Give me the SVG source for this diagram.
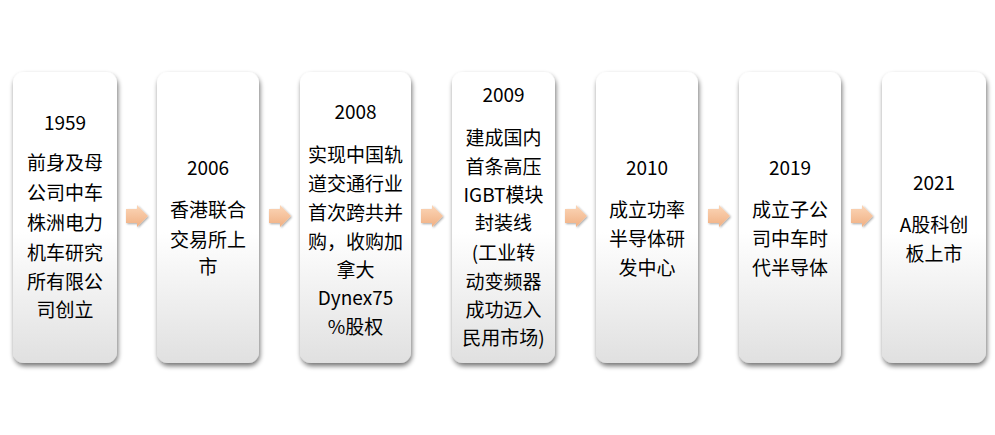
<svg xmlns="http://www.w3.org/2000/svg" width="995" height="435" viewBox="0 0 995 435">
<style>
.box{fill:url(#bg);filter:url(#sh);}
.t{font-family:"Microsoft YaHei","Noto Sans CJK SC","Noto Sans",sans-serif;font-size:19px;fill:#000;text-anchor:middle;}
.arr{fill:url(#ag);filter:url(#ash);}
</style>
<defs>
<linearGradient id="bg" x1="0" y1="0" x2="0" y2="1">
<stop offset="0" stop-color="#ffffff"/>
<stop offset="0.55" stop-color="#ffffff"/>
<stop offset="1" stop-color="#e0e0e0"/>
</linearGradient>
<linearGradient id="ag" x1="0" y1="0" x2="0" y2="1">
<stop offset="0" stop-color="#fbd6b8"/>
<stop offset="1" stop-color="#f0b083"/>
</linearGradient>
<filter id="sh" x="-20%" y="-10%" width="140%" height="125%">
<feGaussianBlur in="SourceAlpha" stdDeviation="2.5"/>
<feOffset dx="1" dy="3" result="b"/>
<feComponentTransfer><feFuncA type="linear" slope="0.55"/></feComponentTransfer>
<feMerge><feMergeNode/><feMergeNode in="SourceGraphic"/></feMerge>
</filter>
<filter id="ash" x="-30%" y="-30%" width="160%" height="160%">
<feGaussianBlur in="SourceAlpha" stdDeviation="1"/>
<feOffset dx="1" dy="1"/>
<feComponentTransfer><feFuncA type="linear" slope="0.35"/></feComponentTransfer>
<feMerge><feMergeNode/><feMergeNode in="SourceGraphic"/></feMerge>
</filter>
<path id="ar" d="M0,-7 L11,-7 L11,-11 L22,0 L11,11 L11,7 L0,7 Z"/>
</defs>
<rect width="995" height="435" fill="#ffffff"/>
<g id="connectors">
<use href="#ar" class="arr" x="126" y="216"/>
<use href="#ar" class="arr" x="269" y="216"/>
<use href="#ar" class="arr" x="421" y="216"/>
<use href="#ar" class="arr" x="565" y="216"/>
<use href="#ar" class="arr" x="708" y="216"/>
<use href="#ar" class="arr" x="851" y="216"/>
</g>
<g id="n1">
<rect class="box" x="13" y="72" width="104" height="291" rx="11"/>
<text class="t" x="65" y="130">1959</text>
<text class="t" x="65" y="170">前身及母</text>
<text class="t" x="65" y="200">公司中车</text>
<text class="t" x="65" y="230">株洲电力</text>
<text class="t" x="65" y="260">机车研究</text>
<text class="t" x="65" y="289">所有限公</text>
<text class="t" x="65" y="317">司创立</text>
</g>
<g id="n2">
<rect class="box" x="157" y="72" width="102" height="291" rx="11"/>
<text class="t" x="208" y="175">2006</text>
<text class="t" x="208" y="217">香港联合</text>
<text class="t" x="208" y="247">交易所上</text>
<text class="t" x="208" y="274">市</text>
</g>
<g id="n3">
<rect class="box" x="300" y="72" width="111" height="291" rx="11"/>
<text class="t" x="355.5" y="119">2008</text>
<text class="t" x="355.5" y="162">实现中国轨</text>
<text class="t" x="355.5" y="191">道交通行业</text>
<text class="t" x="355.5" y="220">首次跨共并</text>
<text class="t" x="355.5" y="249">购，收购加</text>
<text class="t" x="355.5" y="277">拿大</text>
<text class="t" x="355.5" y="305">Dynex75</text>
<text class="t" x="355.5" y="334">%股权</text>
</g>
<g id="n4">
<rect class="box" x="452" y="72" width="103" height="291" rx="11"/>
<text class="t" x="503.5" y="102">2009</text>
<text class="t" x="503.5" y="145">建成国内</text>
<text class="t" x="503.5" y="174">首条高压</text>
<text class="t" x="503.5" y="202">IGBT模块</text>
<text class="t" x="503.5" y="230">封装线</text>
<text class="t" x="503.5" y="260">(工业转</text>
<text class="t" x="503.5" y="289">动变频器</text>
<text class="t" x="503.5" y="317">成功迈入</text>
<text class="t" x="503.5" y="345">民用市场)</text>
</g>
<g id="n5">
<rect class="box" x="596" y="72" width="102" height="291" rx="11"/>
<text class="t" x="647" y="175">2010</text>
<text class="t" x="647" y="217">成立功率</text>
<text class="t" x="647" y="246">半导体研</text>
<text class="t" x="647" y="275">发中心</text>
</g>
<g id="n6">
<rect class="box" x="739" y="72" width="102" height="291" rx="11"/>
<text class="t" x="790" y="175">2019</text>
<text class="t" x="790" y="217">成立子公</text>
<text class="t" x="790" y="246">司中车时</text>
<text class="t" x="790" y="275">代半导体</text>
</g>
<g id="n7">
<rect class="box" x="882" y="72" width="104" height="291" rx="11"/>
<text class="t" x="934" y="190">2021</text>
<text class="t" x="934" y="232">A股科创</text>
<text class="t" x="934" y="261">板上市</text>
</g>
</svg>
